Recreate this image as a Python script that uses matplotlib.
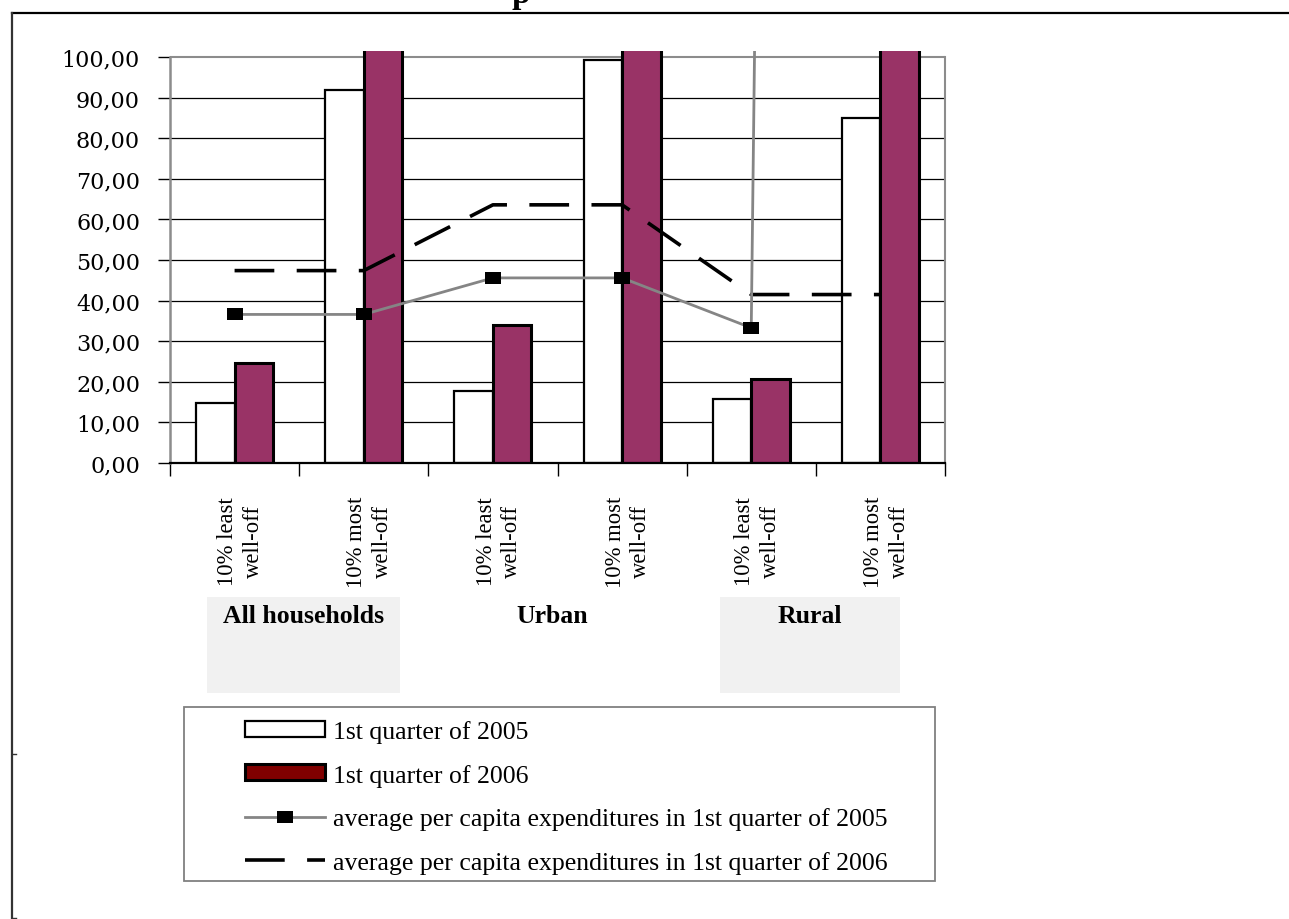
import matplotlib
matplotlib.use("Agg")
import matplotlib.pyplot as plt
from matplotlib import transforms
from matplotlib.patches import Rectangle
from matplotlib.lines import Line2D
import numpy as np

# ---------------- data ----------------
categories = ["10% least\nwell-off", "10% most\nwell-off",
              "10% least\nwell-off", "10% most\nwell-off",
              "10% least\nwell-off", "10% most\nwell-off"]
groups = ["All households", "Urban", "Rural"]
q1_2005 = [14.8, 91.9, 17.8, 99.3, 15.8, 85.1]
q1_2006 = [24.7, 132.0, 34.1, 141.0, 20.7, 118.0]   # the "most well-off" bars run off the top
avg_2005 = [36.6, 36.6, 45.6, 45.6, 33.3, 2700.0]
avg_2006 = [47.4, 47.4, 63.6, 63.6, 41.5, 41.5]
y_ticks = [0, 10, 20, 30, 40, 50, 60, 70, 80, 90, 100]
y_tick_labels = ["0,00", "10,00", "20,00", "30,00", "40,00", "50,00",
                 "60,00", "70,00", "80,00", "90,00", "100,00"]
legend_labels = ["1st quarter of 2005", "1st quarter of 2006",
                 "average per capita expenditures in 1st quarter of 2005",
                 "average per capita expenditures in 1st quarter of 2006"]

# ---------------- figure ----------------
W, H = 1289, 920
plt.rcParams["font.family"] = ["Liberation Serif", "DejaVu Serif"]
fig = plt.figure(figsize=(W / 100, H / 100), dpi=100)
fig.patch.set_facecolor("white")


def fx(x):
    return x / W


def fy(y):
    return 1 - y / H


# plot area: y=0 at px 464, top (101.5) at px 52
ax = fig.add_axes([fx(170), fy(464), 775 / W, 412 / H])
ax.set_xlim(-0.5, 5.5)
ax.set_ylim(0, 101.5)

x = np.arange(len(categories))
w = 0.298
b1 = ax.bar(x - w / 2, q1_2005, w, facecolor="white", edgecolor="black",
            linewidth=1.6, zorder=2, label=legend_labels[0])
b2 = ax.bar(x + w / 2, q1_2006, w, facecolor="#993366", edgecolor="black",
            linewidth=2.2, zorder=2, label=legend_labels[1])

rect_marker = [(-1, -0.72), (1, -0.72), (1, 0.72), (-1, 0.72), (-1, -0.72)]
l1, = ax.plot(x, avg_2005, color="#858585", linewidth=2.0, marker=rect_marker,
              markersize=11.5, markerfacecolor="black", markeredgewidth=0,
              zorder=4, label=legend_labels[2])
l2, = ax.plot(x, avg_2006, color="black", linewidth=2.6, linestyle=(0, (11.0, 6.2)),
              dash_capstyle="butt", zorder=3, label=legend_labels[3])

# grid / spines
ax.set_yticks(y_ticks)
ax.set_yticklabels(y_tick_labels, fontfamily="DejaVu Serif", fontsize=16)
ax.yaxis.grid(True, color="black", linewidth=0.9)
ax.set_axisbelow(True)
ax.get_ygridlines()[-1].set_color("#8c8c8c")
ax.get_ygridlines()[-1].set_linewidth(1.5)
ax.tick_params(axis="y", direction="out", length=8.6, width=1, color="black", pad=13)

ax.set_xticks(x)
ax.set_xticklabels([])
ax.set_xticks(np.arange(-0.5, 6.0, 1.0), minor=True)
ax.tick_params(axis="x", which="major", length=0)
ax.tick_params(axis="x", which="minor", direction="out", length=9.4, width=1, color="black")

ax.spines["top"].set_visible(False)
ax.spines["right"].set_color("#8c8c8c")
ax.spines["right"].set_linewidth(1.5)
ax.spines["right"].set_bounds(0, 100)
ax.spines["left"].set_color("#8c8c8c")
ax.spines["left"].set_linewidth(1.8)
ax.spines["left"].set_bounds(0, 100)
ax.spines["bottom"].set_color("black")
ax.spines["bottom"].set_linewidth(1.6)

# rotated category labels
lab_tr = ax.get_xaxis_transform() + transforms.ScaledTranslation(6 / 100, 0, fig.dpi_scale_trans)
for i, c in enumerate(categories):
    ax.text(i, (464 - 542) / 412, c, transform=lab_tr, rotation=90, ha="center",
            va="center", multialignment="center", linespacing=1.3, fontsize=16.3,
            clip_on=False)

# group labels with shaded boxes
fig.add_artist(Rectangle((fx(207), fy(694)), (400 - 207) / W, (694 - 598) / H,
                         transform=fig.transFigure, facecolor="#f1f1f1", edgecolor="none", zorder=0))
fig.add_artist(Rectangle((fx(720), fy(694)), (900 - 720) / W, (694 - 598) / H,
                         transform=fig.transFigure, facecolor="#f1f1f1", edgecolor="none", zorder=0))
for g, gx in zip(groups, [304, 552, 810]):
    fig.text(fx(gx), fy(623), g, ha="center", va="baseline", fontsize=18.5,
             fontweight="bold")

# legend
fig.add_artist(Rectangle((fx(184), fy(882)), (935 - 184) / W, (882 - 707.5) / H,
                         transform=fig.transFigure, facecolor="white", edgecolor="#808080",
                         linewidth=1.3, zorder=1))
leg = fig.legend(handles=[b1, b2, l1, l2], labels=legend_labels, loc="upper left",
                 bbox_to_anchor=(fx(245), fy(721)), frameon=False, fontsize=18.5,
                 borderpad=0, borderaxespad=0, handlelength=3.11, handleheight=0.58,
                 handletextpad=0.3, labelspacing=0.8, numpoints=1)
leg.set_zorder(2)
leg.legend_handles[1].set_facecolor("#800000")

# outer chart frame
fig.add_artist(Line2D([fx(12), 1.0], [fy(14), fy(14)], color="black", linewidth=1.6))
fig.add_artist(Line2D([fx(12), fx(12)], [fy(14), fy(920)], color="#333333", linewidth=1.6))
fig.add_artist(Line2D([fx(12), fx(16)], [fy(755), fy(755)], color="#333333", linewidth=1))
fig.add_artist(Line2D([fx(12), fx(16)], [fy(919), fy(919)], color="#333333", linewidth=1))

# remnant of the title, cut off by the top edge (as in the original)
fig.text(fx(521), fy(3), "p", ha="center", va="baseline", fontsize=24, fontweight="bold")

fig.savefig("out.png", dpi=100)
